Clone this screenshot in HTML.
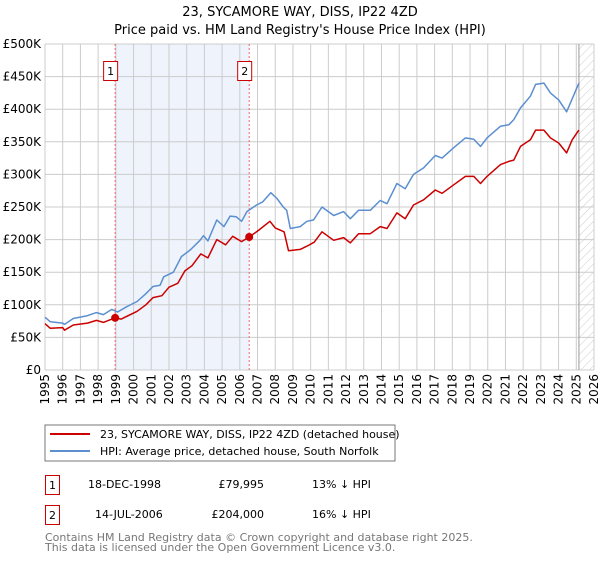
<!DOCTYPE html>
<html><head><meta charset="utf-8"><style>
body{margin:0;background:#fff;font-family:"DejaVu Sans","Liberation Sans",sans-serif;}
svg text{font-family:"DejaVu Sans","Liberation Sans",sans-serif;}
</style></head><body>
<svg id="chart" width="600" height="560" viewBox="0 0 600 560" xmlns="http://www.w3.org/2000/svg">
<defs><pattern id="hatch" width="6" height="6" patternUnits="userSpaceOnUse" patternTransform="rotate(45)"><line x1="0" y1="0" x2="0" y2="6" stroke="#ccc" stroke-width="1"/></pattern></defs>
<text x="300" y="16" text-anchor="middle" font-size="13" fill="#000">23, SYCAMORE WAY, DISS, IP22 4ZD</text>
<text x="300" y="34" text-anchor="middle" font-size="13" fill="#000">Price paid vs. HM Land Registry's House Price Index (HPI)</text>
<g id="plot"></g>
<rect x="45" y="425" width="350" height="36" fill="#fff" stroke="#777"/>
<line x1="50" y1="434" x2="90" y2="434" stroke="#cc0000" stroke-width="2"/>
<text x="100" y="438" font-size="11">23, SYCAMORE WAY, DISS, IP22 4ZD (detached house)</text>
<line x1="50" y1="451" x2="90" y2="451" stroke="#5b8fd0" stroke-width="2"/>
<text x="100" y="455" font-size="11">HPI: Average price, detached house, South Norfolk</text>
<rect x="45.5" y="475.5" width="14" height="19" fill="#fff" stroke="#cc0000"/>
<text x="52.5" y="489" font-size="11" text-anchor="middle">1</text>
<text x="88" y="488" font-size="11">18-DEC-1998</text>
<text x="264" y="488" font-size="11" text-anchor="end">£79,995</text>
<text x="312" y="488" font-size="11">13% ↓ HPI</text>
<rect x="45.5" y="505.5" width="14" height="19" fill="#fff" stroke="#cc0000"/>
<text x="52.5" y="519" font-size="11" text-anchor="middle">2</text>
<text x="95" y="518" font-size="11">14-JUL-2006</text>
<text x="264" y="518" font-size="11" text-anchor="end">£204,000</text>
<text x="312" y="518" font-size="11">16% ↓ HPI</text>
<text x="45" y="541" font-size="11" fill="#777">Contains HM Land Registry data © Crown copyright and database right 2025.</text>
<text x="45" y="551" font-size="11" fill="#777">This data is licensed under the Open Government Licence v3.0.</text>
</svg>
<script>
const hpiYears=[1995.0,1995.3,1996.0,1996.1,1996.6,1997.35,1997.9,1998.3,1998.77,1999.1,1999.6,2000.2,2000.7,2001.1,2001.5,2001.7,2002.25,2002.7,2003.2,2003.75,2003.95,2004.2,2004.7,2005.1,2005.45,2005.8,2006.1,2006.4,2006.95,2007.3,2007.75,2008.1,2008.45,2008.65,2008.85,2009.41,2009.79,2010.16,2010.64,2011.3,2011.86,2012.24,2012.71,2013.37,2013.93,2014.31,2014.87,2015.34,2015.81,2016.38,2017.04,2017.42,2018.08,2018.74,2019.21,2019.59,2019.96,2020.72,2021.19,2021.47,2021.85,2022.41,2022.7,2023.17,2023.54,2024.01,2024.45,2024.77,2025.15];
const hpiValues=[81,74,72,70,79,83,88,85,93,89,97,105,117,128,130,143,150,174,184,199,206,198,230,220,236,235,228,243,253,258,272,263,250,245,217,220,228,230,250,237,243,232,245,245,260,255,286,278,300,310,329,325,341,356,354,343,356,374,376,384,402,420,438,440,425,414,396,416,440];
const ppYears=[1995.0,1995.3,1996.0,1996.1,1996.6,1997.4,1997.9,1998.3,1998.96,1999.3,2000.2,2000.7,2001.1,2001.6,2002.0,2002.5,2002.9,2003.3,2003.8,2004.2,2004.7,2005.2,2005.6,2006.1,2006.53,2007.0,2007.7,2008.0,2008.5,2008.75,2009.41,2009.8,2010.2,2010.64,2011.3,2011.86,2012.24,2012.71,2013.37,2013.93,2014.31,2014.87,2015.34,2015.81,2016.38,2017.04,2017.42,2018.08,2018.74,2019.21,2019.59,2019.96,2020.72,2021.19,2021.47,2021.85,2022.41,2022.7,2023.17,2023.54,2024.01,2024.45,2024.77,2025.15];
const ppValues=[71,64,65,61,69,72,76,73,80,78,90,100,111,114,127,133,152,160,178,172,200,192,205,197,204,213,228,218,212,183,185,190,196,212,199,203,195,209,209,220,217,241,232,253,261,276,271,284,297,297,286,297,315,320,322,343,353,368,368,356,348,333,353,368];
const saleYears=[1998.96,2006.53];
const saleValues=[79.995,204];
const saleLabels=["1","2"];
const yTicks=[0,50,100,150,200,250,300,350,400,450,500];
const yTickLabels=["£0","£50K","£100K","£150K","£200K","£250K","£300K","£350K","£400K","£450K","£500K"];
const xTicks=[1995,1996,1997,1998,1999,2000,2001,2002,2003,2004,2005,2006,2007,2008,2009,2010,2011,2012,2013,2014,2015,2016,2017,2018,2019,2020,2021,2022,2023,2024,2025,2026];
const dataEnd=2025.15;

const X0=45,X1=594,Y0=370,Y1=44;
const sx=y=>X0+(y-1995)/(2026-1995)*(X1-X0);
const sy=v=>Y0-v/500*(Y0-Y1);
const NS="http://www.w3.org/2000/svg";
const g=document.getElementById('plot');
function mk(t,a){const e=document.createElementNS(NS,t);for(const k in a)e.setAttribute(k,a[k]);g.appendChild(e);return e;}
let e;
e=mk('rect',{x:sx(saleYears[0]),y:Y1,width:sx(saleYears[1])-sx(saleYears[0]),height:Y0-Y1,fill:'#eef3fc'});


e=mk('rect',{x:sx(dataEnd),y:Y1,width:X1-sx(dataEnd),height:Y0-Y1,fill:'url(#hatch)'});


yTicks.forEach((t,i)=>{
 e=mk('line',{x1:X0,x2:X1,y1:sy(t),y2:sy(t),stroke:'#ccc','stroke-width':1});
 
 
 e=mk('text',{x:X0-4,y:sy(t)+4,'text-anchor':'end','font-size':12,fill:'#000'});e.textContent=yTickLabels[i];
 
 
});
xTicks.forEach(t=>{
 e=mk('line',{x1:sx(t),x2:sx(t),y1:Y1,y2:Y0,stroke:'#ccc','stroke-width':1});
 
 
 e=mk('text',{x:0,y:0,'text-anchor':'end','font-size':12,fill:'#000',transform:`translate(${sx(t)+4},${Y0+4}) rotate(-90)`});e.textContent=t;
 
 
});
e=mk('line',{x1:sx(dataEnd),x2:sx(dataEnd),y1:Y1,y2:Y0,stroke:'#999','stroke-width':1});


saleYears.forEach((yr,i)=>{
 e=mk('line',{x1:sx(yr),x2:sx(yr),y1:Y1,y2:Y0,stroke:'#e66','stroke-width':1,'stroke-dasharray':'2,2'});
 
 
 e=mk('rect',{x:sx(yr)-11.5,y:61.5,width:14,height:19,fill:'#fff',stroke:'#cc0000'});
 
 
 e=mk('text',{x:sx(yr)-4.5,y:75,'text-anchor':'middle','font-size':11});e.textContent=saleLabels[i];
 
 
});
function path(xs,vs){return xs.map((x,i)=>(i?'L':'M')+sx(x).toFixed(1)+','+sy(vs[i]).toFixed(1)).join(' ');}
e=mk('path',{d:path(hpiYears,hpiValues),fill:'none',stroke:'#5b8fd0','stroke-width':1.5,'stroke-linejoin':'round'});


e=mk('path',{d:path(ppYears,ppValues),fill:'none',stroke:'#cc0000','stroke-width':1.5,'stroke-linejoin':'round'});


saleYears.forEach((yr,i)=>{
 e=mk('circle',{cx:sx(yr),cy:sy(saleValues[i]),r:4,fill:'#cc0000'});
 
 
});
</script>
</body></html>
